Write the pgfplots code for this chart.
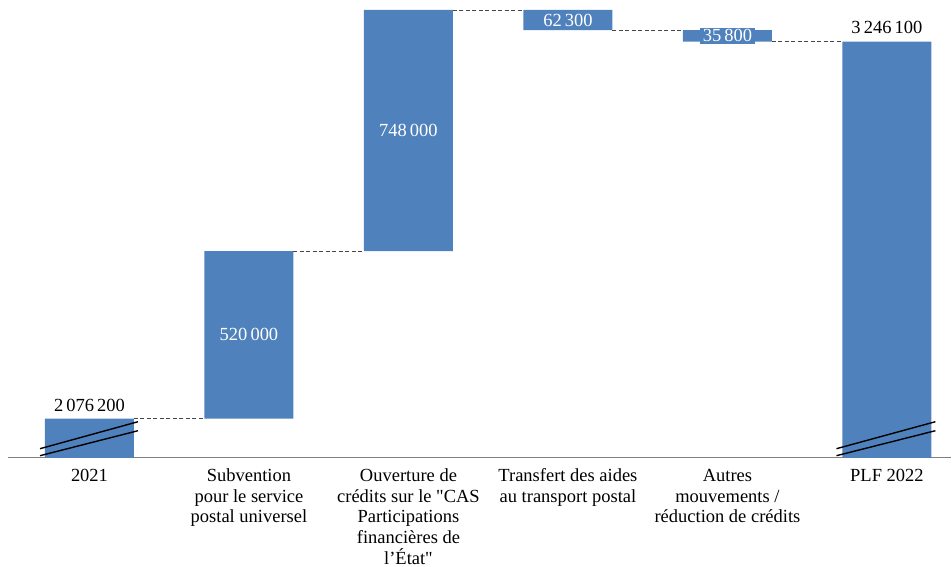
\documentclass[border=0pt]{standalone}
\usepackage{pgfplots}
\pgfplotsset{compat=1.18}
\usepackage{fontspec}
\setmainfont{Liberation Serif}[Ligatures=TeXOff]

\definecolor{barblue}{RGB}{79,129,189}
\definecolor{axisgray}{RGB}{128,128,128}
\definecolor{linkgray}{RGB}{70,70,70}
\newcommand\lblfont{\fontsize{18.5}{20.7}\selectfont}

\pgfplotsset{
  frame/.style={
    scale only axis, width=944pt, height=458pt,
    xmin=-0.511, xmax=5.404,
    ymin=1955300, ymax=3375200,
  },
}

\begin{document}
\begin{tikzpicture}
% the floating bars
\begin{axis}[
  frame,
  ybar stacked, bar width=0.558,
  axis x line*=bottom, hide y axis,
  x axis line style={axisgray, line width=1.3pt},
  xtick={0,1,2,3,4,5}, major tick length=0pt,
  xticklabels={
    {2021},
    {Subvention\\pour le service\\postal universel},
    {Ouverture de\\crédits sur le "CAS\\Participations\\financières de\\l’État"},
    {Transfert des aides\\au transport postal},
    {Autres\\mouvements /\\réduction de crédits},
    {PLF 2022}},
  typeset ticklabels with strut,
  xticklabel style={font=\lblfont, align=center, anchor=north, inner sep=0pt, yshift=-9pt},
  ytick=\empty,
]
% invisible base of each floating bar
\addplot[draw=none, fill=none] coordinates {
  (0,0) (1,2076200) (2,2596200) (3,3281900) (4,3246100) (5,0)};
% visible steps
\addplot[draw=none, fill=barblue] coordinates {
  (0,2076200) (1,520000) (2,748000) (3,62300) (4,35800) (5,3246100)};
\end{axis}

% connectors, break marks and value labels on top of the bars
\begin{axis}[frame, hide axis, clip=false]
\draw[linkgray, line width=0.9pt, dash pattern=on 4pt off 2.5pt]
  (axis cs:0.279,2076200) -- (axis cs:0.721,2076200)
  (axis cs:1.279,2596200) -- (axis cs:1.721,2596200)
  (axis cs:2.279,3344200) -- (axis cs:2.721,3344200)
  (axis cs:3.279,3281900) -- (axis cs:3.721,3281900)
  (axis cs:4.279,3246100) -- (axis cs:4.721,3246100);

\draw[black, line width=1.4pt]
  (axis cs:-0.310,1983200) -- (axis cs:0.304,2066900)
  (axis cs:-0.310,1961500) -- (axis cs:0.304,2039000)
  (axis cs:4.684,1983200) -- (axis cs:5.304,2066900)
  (axis cs:4.684,1961500) -- (axis cs:5.304,2039000);

\node[font=\lblfont, anchor=base, yshift=7pt] at (axis cs:0,2076200) {2\,076\,200};
\node[font=\lblfont, anchor=base, yshift=8pt] at (axis cs:5,3246100) {3\,246\,100};
\node[font=\lblfont, text=white] at (axis cs:1,2336200) {520\,000};
\node[font=\lblfont, text=white] at (axis cs:2,2970200) {748\,000};
\node[font=\lblfont, text=white, inner sep=1pt] at (axis cs:3,3313050) {62\,300};
\node[font=\lblfont, text=white, fill=barblue, inner xsep=2.5pt, inner ysep=2pt] at (axis cs:4,3264000) {35\,800};
\end{axis}

% page extent: the full plot area, a little room left of the axis line and below the labels
\path (-8pt,-109pt) rectangle (944pt,458pt);
\end{tikzpicture}
\end{document}
